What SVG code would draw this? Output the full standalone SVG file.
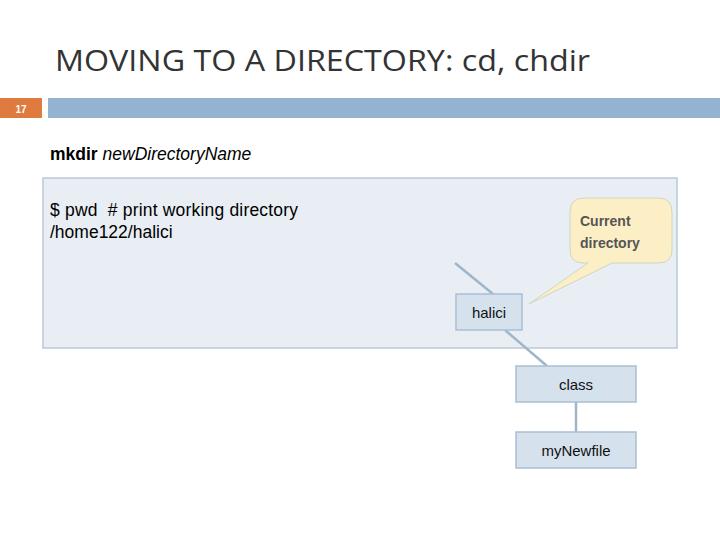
<svg xmlns="http://www.w3.org/2000/svg" width="720" height="540" viewBox="0 0 720 540">
<style>
.node{fill:#d5e2ee;stroke:#a9bfd3;stroke-width:1.5}
.lbl{font-family:"Liberation Sans",Arial,sans-serif;font-size:15px;fill:#111;text-anchor:middle}
.body{font-family:"Liberation Sans",Arial,sans-serif;font-size:17.5px;fill:#000}
.conn line{stroke:#9fb6c9;stroke-width:2.5}
</style>
<rect width="720" height="540" fill="#fff"/>
<text x="55" y="71" font-family="'Open Sans','Liberation Sans',sans-serif" font-size="30" fill="#333" textLength="535" lengthAdjust="spacingAndGlyphs">MOVING TO A DIRECTORY: cd, chdir</text>
<rect x="0" y="98" width="42" height="20" fill="#e07b40"/>
<text x="21" y="113" font-family="'Liberation Sans',sans-serif" font-size="10" font-weight="bold" fill="#fff" text-anchor="middle">17</text>
<rect x="48" y="98" width="672" height="20" fill="#93b3d0"/>
<text x="50" y="160" class="body"><tspan font-weight="bold">mkdir</tspan> <tspan font-style="italic">newDirectoryName</tspan></text>
<rect x="43" y="178" width="634" height="170" fill="#e9eef5" stroke="#b9c9d9" stroke-width="1.5"/>
<text x="50" y="216" class="body" xml:space="preserve" textLength="248">$ pwd  # print working directory</text>
<text x="50" y="238" class="body">/home122/halici</text>
<g class="conn">
<line x1="455" y1="263" x2="493" y2="294"/>
<line x1="505" y1="330" x2="547" y2="366"/>
<line x1="576" y1="402" x2="576" y2="432"/>
</g>
<g id="callout">
<path d="M584,198 H658 Q672,198 672,212 V250 Q672,263 658,263 H612 L529,304 L588,263 H584 Q570,263 570,250 V212 Q570,198 584,198 Z" fill="#fdefc5" stroke="#cfd6c0" stroke-width="1"/>
<text x="580" y="226" font-family="'Liberation Sans',sans-serif" font-size="14" font-weight="bold" fill="#555">Current</text>
<text x="580" y="248" font-family="'Liberation Sans',sans-serif" font-size="14" font-weight="bold" fill="#555">directory</text>
</g>
<g id="halici"><rect class="node" x="456" y="294" width="66" height="36"/><text class="lbl" x="489" y="318">halici</text></g>
<g id="class"><rect class="node" x="516" y="366" width="120" height="36"/><text class="lbl" x="576" y="390">class</text></g>
<g id="myNewfile"><rect class="node" x="516" y="432" width="120" height="36"/><text class="lbl" x="576" y="456">myNewfile</text></g>
</svg>
